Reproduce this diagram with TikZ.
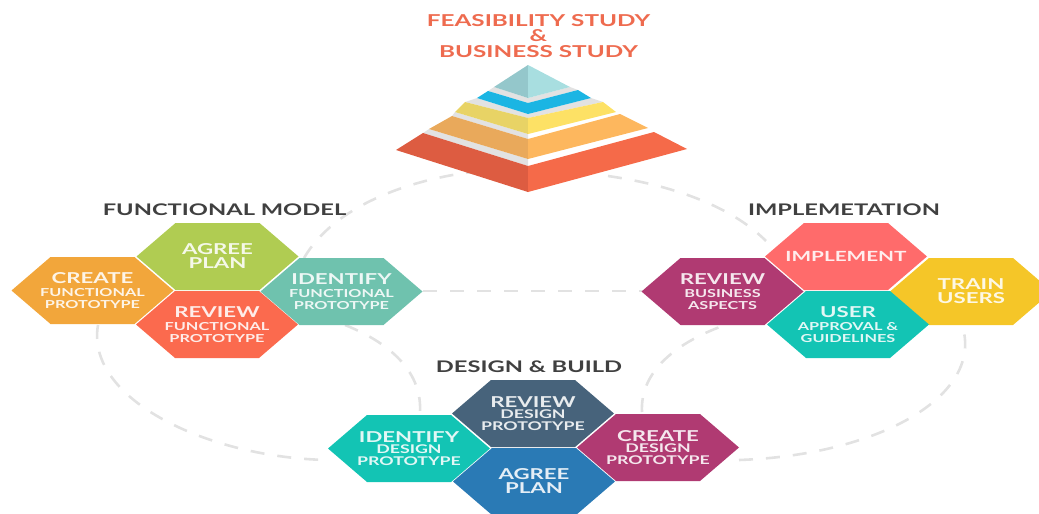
\documentclass[tikz,border=0pt]{standalone}
\usepackage{fontspec}
\newfontfamily\widefont[FakeStretch=1.48]{Lato Bold}
\usetikzlibrary{calc}
\definecolor{dashc}{HTML}{E2E2E2}
\definecolor{headc}{HTML}{404040}
\definecolor{titlec}{HTML}{EE6B4F}
\definecolor{hexorange}{HTML}{F2A63B}
\definecolor{hexgreen}{HTML}{B0CC52}
\definecolor{hexsage}{HTML}{6FC2AE}
\definecolor{hexcoral}{HTML}{FB6A4E}
\definecolor{hexteal}{HTML}{13C4B4}
\definecolor{hexslate}{HTML}{47637B}
\definecolor{hexplum}{HTML}{B03A72}
\definecolor{hexblue}{HTML}{2A7AB5}
\definecolor{hexsalmon}{HTML}{FF6B6B}
\definecolor{hexyellow}{HTML}{F5C628}
\definecolor{pyrtopl}{HTML}{94C7CB}
\definecolor{pyrtopr}{HTML}{A8DEE0}
\definecolor{pyrblue}{HTML}{1BB5E3}
\definecolor{pyryell}{HTML}{E8D365}
\definecolor{pyryelr}{HTML}{FDE165}
\definecolor{pyroranl}{HTML}{E9A95B}
\definecolor{pyroranr}{HTML}{FDB75E}
\definecolor{pyrredl}{HTML}{DD5C41}
\definecolor{pyrredr}{HTML}{F56A49}
\newcommand{\hexbig}{\widefont\fontsize{15}{15}\selectfont}
\newcommand{\hexsmall}{\widefont\fontsize{11}{7.5}\selectfont}
\newcommand{\hexsmallb}{\widefont\fontsize{12}{10}\selectfont}
\newcommand{\hexthree}[3]{\hexbig #1\\[1pt]\hexsmall #2\\\hexsmall #3}
\newcommand{\hexthreeb}[3]{\hexbig #1\\[-0.5pt]\hexsmallb #2\\\hexsmallb #3}
\newcommand{\hextwo}[2]{\hexbig #1\\[2pt]\hexbig #2}
\tikzset{
  x=1pt,y=-1pt,
  hexnode/.style={minimum width=162pt,minimum height=67pt,inner sep=0pt,outer sep=0pt,
    align=center,text=white,text opacity=0.88,
    path picture={\fill[#1]
      (path picture bounding box.west)
      -- ($(path picture bounding box.north west)+(39pt,0)$)
      -- ($(path picture bounding box.north east)+(-39pt,0)$)
      -- (path picture bounding box.east)
      -- ($(path picture bounding box.south east)+(-39pt,0)$)
      -- ($(path picture bounding box.south west)+(39pt,0)$)
      -- cycle;}},
  heading/.style={font=\widefont\fontsize{16}{16}\selectfont,text=headc,inner sep=0pt},
  titletext/.style={font=\widefont\fontsize{16.4}{16}\selectfont,text=titlec,inner sep=0pt},
  ringdash/.style={draw=dashc,line width=2.6pt,dash pattern=on 14pt off 13pt}
}
\begin{document}
\begin{tikzpicture}
\useasboundingbox (0,0) rectangle (1039,514);
% arcs behind everything
\coordinate (a1) at (304,258);
\coordinate (a2) at (472,172);
\coordinate (b1) at (608,176);
\coordinate (b2) at (766,241);
\coordinate (c1) at (423,291);
\coordinate (c2) at (642,291);
\coordinate (d1) at (98,325);
\coordinate (d2) at (328,460);
\coordinate (e1) at (739,460);
\coordinate (e2) at (962,325);
\coordinate (f1) at (345,325);
\coordinate (f2) at (420,412);
\coordinate (g1) at (642,412);
\coordinate (g2) at (725,325);
\draw[ringdash] (a1) .. controls (335,205) and (410,180) .. (a2);
\draw[ringdash] (b1) .. controls (670,185) and (730,205) .. (b2);
\draw[ringdash] (c1) -- (c2);
\draw[ringdash] (d1) .. controls (85,400) and (210,458) .. (d2);
\draw[ringdash] (e1) .. controls (880,455) and (985,395) .. (e2);
\draw[ringdash] (f1) .. controls (395,345) and (422,375) .. (f2);
\draw[ringdash] (g1) .. controls (640,375) and (670,345) .. (g2);
% bands
\fill[dashc] (488,91) -- (528,103) -- (528,98) -- (494,87) -- cycle;
\fill[dashc] (528,103) -- (578,90) -- (570,87) -- (528,98) -- cycle;
\fill[dashc] (465,102) -- (528,118) -- (528,114) -- (477,98) -- cycle;
\fill[dashc] (528,118) -- (603,102) -- (591,98) -- (528,114) -- cycle;
\fill[dashc] (452,116) -- (528,139) -- (528,134) -- (455,112) -- cycle;
\fill[dashc] (423,133) -- (528,166) -- (528,159) -- (429,129) -- cycle;
% layers
\fill[pyrtopl] (528,65) -- (494,87) -- (528,98) -- cycle;
\fill[pyrtopr] (528,65) -- (570,87) -- (528,98) -- cycle;
\fill[pyrblue] (477,98) -- (488,91) -- (528,103) -- (578,90) -- (591,98) -- (528,114) -- cycle;
\fill[pyryell] (455,112) -- (465,102) -- (528,118) -- (528,134) -- cycle;
\fill[pyryelr] (528,118) -- (603,102) -- (616,112) -- (528,134) -- cycle;
\fill[pyroranl] (429,129) -- (452,116) -- (528,139) -- (528,159) -- cycle;
\fill[pyroranr] (528,139) -- (620,114) -- (648,128) -- (528,159) -- cycle;
\fill[pyrredl] (396,150) -- (423,133) -- (528,166) -- (528,192) -- cycle;
\fill[pyrredr] (528,166) -- (654,132) -- (687,149) -- (528,192) -- cycle;
% title
\node[titletext] (t1) at (538.5,21) {FEASIBILITY STUDY};
\node[titletext] (t2) at (538.5,36) {\&};
\node[titletext] (t3) at (538.5,52) {BUSINESS STUDY};
% headings
\node[heading] (h1) at (224.5,210) {FUNCTIONAL MODEL};
\node[heading] (h2) at (844,210) {IMPLEMETATION};
\node[heading] (h3) at (529,367) {DESIGN \& BUILD};
% functional
\node[hexnode=hexorange] (fc) at (92.5,290.5) {\hexthree{CREATE}{FUNCTIONAL}{PROTOTYPE}};
\node[hexnode=hexgreen] (fa) at (217.5,256.5) {\hextwo{AGREE}{PLAN}};
\node[hexnode=hexsage] (fi) at (341.5,291.5) {\hexthree{IDENTIFY}{FUNCTIONAL}{PROTOTYPE}};
\node[hexnode=hexcoral] (fr) at (217,324.5) {\hexthree{REVIEW}{FUNCTIONAL}{PROTOTYPE}};
% implementation
\node[hexnode=hexplum] (ir) at (722.5,291.5) {\hexthree{REVIEW}{BUSINESS}{ASPECTS}};
\node[hexnode=hexsalmon] (im) at (846,256.5) {\widefont\fontsize{14}{14}\selectfont IMPLEMENT};
\node[hexnode=hexyellow] (it) at (971,291.5) {\hextwo{TRAIN}{USERS}};
\node[hexnode=hexteal] (iu) at (848,324.5) {\hexthree{USER}{APPROVAL \&}{GUIDELINES}};
% design
\node[hexnode=hexteal] (di) at (409,448.5) {\hexthreeb{IDENTIFY}{DESIGN}{PROTOTYPE}};
\node[hexnode=hexslate] (dr) at (533,413.5) {\hexthreeb{REVIEW}{DESIGN}{PROTOTYPE}};
\node[hexnode=hexplum] (dc) at (658,447.5) {\hexthreeb{CREATE}{DESIGN}{PROTOTYPE}};
\node[hexnode=hexblue] (da) at (534,481.5) {\hextwo{AGREE}{PLAN}};
\end{tikzpicture}
\end{document}
